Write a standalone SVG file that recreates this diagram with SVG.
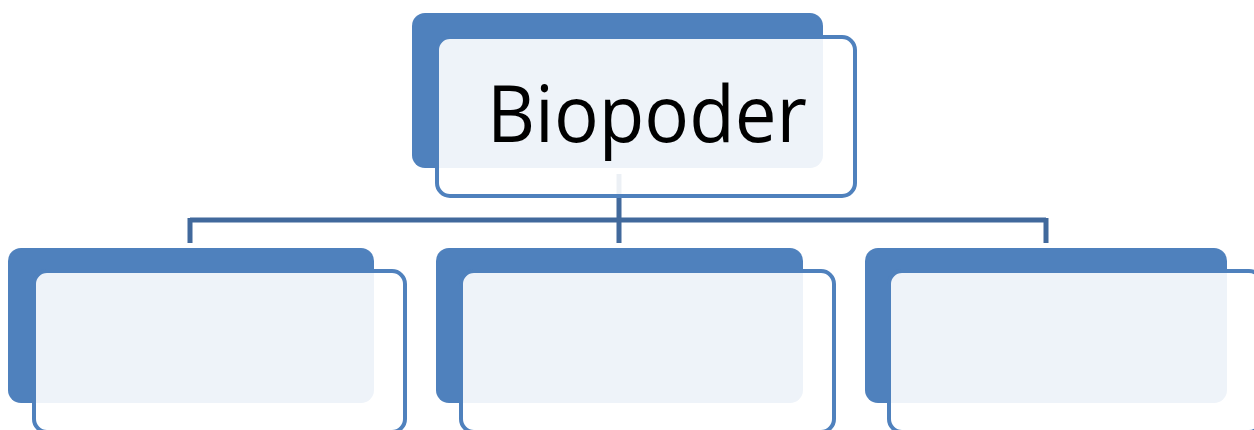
<svg xmlns="http://www.w3.org/2000/svg" width="1254" height="430" viewBox="0 0 1254 430">
<style>
.back{fill:#4F81BD}
.front{fill:#FFFFFF;fill-opacity:0.9;stroke:#4F81BD;stroke-width:4}
.conn{fill:none;stroke:#41699C;stroke-width:5}
.label{font-family:"Open Sans","Noto Sans",sans-serif;font-size:78px;fill:#000}
</style>
<rect width="1254" height="430" fill="#FFFFFF"/>
<g id="connectors">
<path class="conn" d="M619,174 V222 M190,220 H1046 M190,218 V243 M619,218 V243 M1046,218 V243"/>
</g>
<g id="node-biopoder">
<rect class="back" x="412" y="13" width="411" height="155" rx="13"/>
<rect class="front" x="437" y="37" width="418" height="159" rx="13"/>
<text class="label" x="487" y="142" textLength="320" lengthAdjust="spacingAndGlyphs">Biopoder</text>
</g>
<g id="node-left">
<rect class="back" x="8" y="248" width="366" height="155" rx="13"/>
<rect class="front" x="34" y="271" width="371" height="161" rx="13"/>
</g>
<g id="node-middle">
<rect class="back" x="436" y="248" width="367" height="155" rx="13"/>
<rect class="front" x="461" y="271" width="373" height="161" rx="13"/>
</g>
<g id="node-right">
<rect class="back" x="865" y="248" width="362" height="155" rx="13"/>
<rect class="front" x="889" y="271" width="373" height="161" rx="13"/>
</g>
</svg>
